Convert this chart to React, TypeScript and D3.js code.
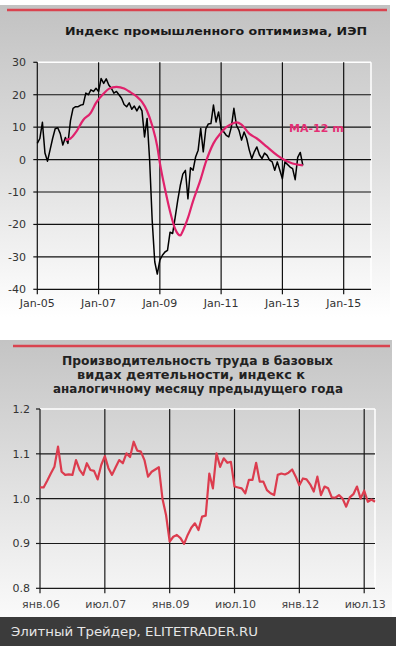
import React from "react";
import * as d3 from "d3";

// ---- Top chart: Industrial optimism index (monthly from Jan-2005) ----
const iepValues = [
  5.0, 6.5, 11.5, 2, -0.5, 3, 6.5, 9.5, 9.8, 8,
  4.5, 6.8, 5, 12, 15.8, 16.3, 16.3, 16.8, 17, 20.5,
  20, 21.5, 21, 22, 21, 25, 23.5, 24.9, 23, 22,
  20.5, 21, 20, 18.9, 17, 16.3, 17.5, 15.5, 16.5, 15,
  16.5, 15, 7, 12.7, -0.2, -18.8, -31.5, -35.3, -31, -29.5,
  -28.5, -28, -22.4, -22.8, -17.8, -12.6, -8, -4.5, -3.3, -12.1,
  -2.5, -3.3, 0.8, 2.9, 9.6, 2.4, 9.5, 11, 11.1, 16.8,
  11.6, 14.7, 9.6, 8.6, 7.5, 7, 10, 15.8, 10.6, 9,
  6, 8.5, 6.5, 3, 0.3, 2.4, 3.9, 1.5, 0.3, 2,
  1.3, -0.2, -0.7, -3.3, -0.7, -3.3, -5.9, -0.7, -1.5, -2.3,
  -2.8, -6.2, 0.7, 2.2, -1.8,
];
// MA-12 read at selected months (months since Jan-2005)
const maMonths = [11, 13, 15, 18, 21, 23, 26, 28, 31, 34, 36, 39, 41, 43, 45, 47, 48, 50, 52, 54, 56, 57, 59, 61, 64, 66, 69, 72, 74, 77, 78, 80, 83, 86, 90, 94, 97, 100, 104];
const maValues = [6.0, 6.5, 8.3, 12.2, 14.5, 17.5, 20.4, 21.8, 22.4, 21.9, 21.0, 19.4, 17.8, 15.0, 10.5, 4.0, -1.0, -9.0, -16.0, -21.4, -23.4, -22, -18, -12.8, -6, -0.8, 5.0, 8.3, 10.0, 11.3, 11.5, 10.8, 8.0, 6.5, 3.9, 1.3, -0.2, -1.2, -1.8];
const topYTicks = [30, 20, 10, 0, -10, -20, -30, -40];
const topXTickMonths = [0, 24, 48, 72, 96, 120];
const topXTickLabels = ["Jan-05", "Jan-07", "Jan-09", "Jan-11", "Jan-13", "Jan-15"];

// ---- Bottom chart: labour productivity index (monthly from Jan-2006) ----
const prodValues = [
  1.025, 1.025, 1.040, 1.056, 1.071, 1.116, 1.060, 1.053, 1.054, 1.053,
  1.086, 1.064, 1.053, 1.079, 1.064, 1.062, 1.043, 1.075, 1.095, 1.068,
  1.053, 1.070, 1.086, 1.079, 1.101, 1.093, 1.127, 1.107, 1.105, 1.086,
  1.049, 1.060, 1.065, 1.070, 1.000, 0.963, 0.904, 0.915, 0.919, 0.912,
  0.899, 0.919, 0.935, 0.945, 0.930, 0.960, 0.962, 1.056, 1.023, 1.101,
  1.071, 1.090, 1.080, 1.082, 1.027, 1.025, 1.023, 1.012, 1.042, 1.042,
  1.080, 1.038, 1.038, 1.019, 1.012, 1.008, 1.053, 1.056, 1.054, 1.058,
  1.065, 1.049, 1.030, 1.045, 1.043, 1.032, 1.016, 1.049, 1.008, 1.027,
  1.023, 1.003, 1.002, 1.008, 1.000, 0.982, 1.003, 1.010, 1.027, 1.000,
  1.018, 0.993, 0.998, 0.993,
];
const botYTicks = [1.2, 1.1, 1.0, 0.9, 0.8];
const botXTickMonths = [0, 18, 36, 54, 72, 90];
const botXTickLabels = ["янв.06", "июл.07", "янв.09", "июл.10", "янв.12", "июл.13"];

const FONT = "'DejaVu Sans', Verdana, sans-serif";

export default function App() {
  // top scales
  const xT = d3.scaleLinear().domain([0, 130.7]).range([37.3, 371]);
  const yT = d3.scaleLinear().domain([-40, 30]).range([289.3, 62.3]);
  // bottom scales
  const xB = d3.scaleLinear().domain([0, 93]).range([40, 375]);
  const yB = d3.scaleLinear().domain([0.8, 1.2]).range([588.3, 409]);

  const iepLine = d3
    .line<number>()
    .x((_, i) => xT(i))
    .y((d) => yT(d));
  const maLine = d3
    .line<number>()
    .x((_, i) => xT(maMonths[i]))
    .y((d) => yT(d))
    .curve(d3.curveMonotoneX);
  const prodLine = d3
    .line<number>()
    .x((_, i) => xB(i))
    .y((d) => yB(d));

  const [tx0, tx1] = xT.range();
  const [bx0, bx1] = xB.range();

  return (
    <svg
      width={396}
      height={646}
      style={{ position: "absolute", left: 0, top: 0, background: "#fff" }}
      fontFamily={FONT}
    >
      <defs>
        <linearGradient id="gTop" x1="0" y1="0" x2="0" y2="1">
          <stop offset="0" stopColor="#c2c2c2" />
          <stop offset="0.5" stopColor="#dedede" />
          <stop offset="1" stopColor="#ffffff" />
        </linearGradient>
        <linearGradient id="gBot" x1="0" y1="0" x2="0" y2="1">
          <stop offset="0" stopColor="#c4c4c4" />
          <stop offset="0.55" stopColor="#e2e2e2" />
          <stop offset="1" stopColor="#fafafa" />
        </linearGradient>
      </defs>

      {/* ===== Top panel ===== */}
      <rect x={0} y={5} width={390} height={312} fill="url(#gTop)" />
      <line x1={7} x2={387} y1={10} y2={10} stroke="#d9434f" strokeWidth={2.5} />
      <text
        x={216}
        y={35}
        textAnchor="middle"
        fontSize={11}
        fontWeight="bold"
        fill="#1a1a1a"
        textLength={302}
        lengthAdjust="spacingAndGlyphs"
      >
        Индекс промышленного оптимизма, ИЭП
      </text>

      {/* plot border top/right (white) */}
      <line x1={tx0} x2={tx1} y1={yT(30)} y2={yT(30)} stroke="#fff" strokeWidth={1.5} />
      <line x1={tx1} x2={tx1} y1={yT(30)} y2={yT(-40)} stroke="#fff" strokeWidth={1.5} />

      {/* horizontal grid */}
      {topYTicks.map((t) => (
        <g key={"ty" + t}>
          {t !== 30 && (
            <line x1={tx0} x2={tx1} y1={yT(t)} y2={yT(t)} stroke="#111" strokeWidth={1.2} />
          )}
          <line x1={tx0 - 4} x2={tx0} y1={yT(t)} y2={yT(t)} stroke="#111" strokeWidth={1.2} />
          <text x={26} y={yT(t) + 4} textAnchor="end" fontSize={11} fill="#333">
            {t}
          </text>
        </g>
      ))}
      {/* vertical grid */}
      {topXTickMonths.map((m, i) => (
        <g key={"tx" + m}>
          <line x1={xT(m)} x2={xT(m)} y1={yT(30)} y2={yT(-40) + 5} stroke="#111" strokeWidth={1.2} />
          <text x={xT(m)} y={307} textAnchor="middle" fontSize={11} fill="#333">
            {topXTickLabels[i]}
          </text>
        </g>
      ))}

      <path d={iepLine(iepValues) || ""} fill="none" stroke="#000" strokeWidth={1.5} strokeLinejoin="round" />
      <path d={maLine(maValues) || ""} fill="none" stroke="#e0226c" strokeWidth={2.2} strokeLinejoin="round" />
      <text x={289} y={132} fontSize={11} fontWeight="bold" fill="#e42f74">
        MA-12 m
      </text>

      {/* ===== Bottom panel ===== */}
      <rect x={0} y={340} width={392} height={277} fill="url(#gBot)" />
      <line x1={13} x2={390} y1={346} y2={346} stroke="#d9434f" strokeWidth={2.5} />
      <g fontSize={12} fontWeight="bold" fill="#222" textAnchor="middle">
        <text x={197.5} y={365} textLength={271} lengthAdjust="spacingAndGlyphs">
          Производительность труда в базовых
        </text>
        <text x={191} y={379} textLength={228} lengthAdjust="spacingAndGlyphs">
          видах деятельности, индекс к
        </text>
        <text x={198} y={393} textLength={290} lengthAdjust="spacingAndGlyphs">
          аналогичному месяцу предыдущего года
        </text>
      </g>

      <line x1={bx0} x2={bx1} y1={yB(1.2)} y2={yB(1.2)} stroke="#fff" strokeWidth={1.5} />
      <line x1={bx1} x2={bx1} y1={yB(1.2)} y2={yB(0.8)} stroke="#fff" strokeWidth={1.5} />

      {botYTicks.map((t) => (
        <g key={"by" + t}>
          {t !== 1.2 && (
            <line x1={bx0} x2={bx1} y1={yB(t)} y2={yB(t)} stroke="#1a1a1a" strokeWidth={1.2} />
          )}
          <line x1={bx0 - 4} x2={bx0} y1={yB(t)} y2={yB(t)} stroke="#1a1a1a" strokeWidth={1.2} />
          <text x={30} y={yB(t) + 4} textAnchor="end" fontSize={11} fill="#333">
            {t.toFixed(1)}
          </text>
        </g>
      ))}
      {botXTickMonths.map((m, i) => (
        <g key={"bx" + m}>
          <line x1={xB(m)} x2={xB(m)} y1={yB(1.2)} y2={yB(0.8) + 5} stroke="#1a1a1a" strokeWidth={1.2} />
          <text x={xB(m) + 1} y={608} textAnchor="middle" fontSize={11} fill="#444">
            {botXTickLabels[i]}
          </text>
        </g>
      ))}

      <path d={prodLine(prodValues) || ""} fill="none" stroke="#dc3c4e" strokeWidth={2.2} strokeLinejoin="round" />

      {/* ===== Footer ===== */}
      <rect x={0} y={617} width={396} height={29} fill="#3b3b3b" />
      <text x={11} y={636} fontSize={12} fill="#e6e6e6" textLength={247} lengthAdjust="spacingAndGlyphs">
        Элитный Трейдер, ELITETRADER.RU
      </text>
    </svg>
  );
}
